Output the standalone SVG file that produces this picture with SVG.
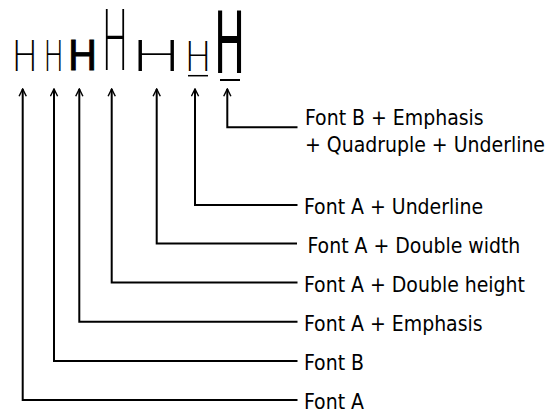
<svg xmlns="http://www.w3.org/2000/svg" width="555" height="412" viewBox="0 0 555 412">
<style>
.lbl{font-family:"DejaVu Sans Condensed","DejaVu Sans",sans-serif;font-size:21px;fill:#000}
.h{font-family:"DejaVu Sans",sans-serif;font-size:100px;font-weight:200;fill:#000}
.hb{font-family:"DejaVu Sans",sans-serif;font-size:100px;font-weight:normal;fill:#000}
.c{fill:none;stroke:#000;stroke-width:2}
.ul{stroke:#000}
</style>
<defs>
<marker id="ah" viewBox="0 0 10 10" refX="9" refY="5" markerWidth="9" markerHeight="9" markerUnits="userSpaceOnUse" orient="auto-start-reverse">
<polyline points="1,1 9,5 1,9" fill="none" stroke="#000" stroke-width="1.6"/>
</marker>
</defs>
<rect width="555" height="412" fill="#fff"/>
<g id="samples">
<text class="h" transform="translate(11.5,70.7) scale(0.354,0.431)">H</text>
<text class="h" transform="translate(43.4,70.7) scale(0.27,0.421)">H</text>
<text class="hb" transform="translate(67.5,70.3) scale(0.40,0.41)" stroke="#000" stroke-width="2">H</text>
<text class="h" transform="translate(101.5,70.2) scale(0.36,0.835)">H</text>
<text class="h" transform="translate(130,70.7) scale(0.7,0.421)">H</text>
<text class="h" transform="translate(184.5,71) scale(0.36,0.40)">H</text>
<line class="ul" x1="188" y1="75.7" x2="208" y2="75.7" stroke-width="1.5"/>
<text class="hb" transform="translate(213.9,72.7) scale(0.414,0.86)">H</text>
<line class="ul" x1="220" y1="80" x2="240" y2="80" stroke-width="2"/>
</g>
<g id="connectors">
<path class="c" marker-start="url(#ah)" d="M227.3,89 V127.3 H297.5"/>
<path class="c" marker-start="url(#ah)" d="M195,89 V205 H297.5"/>
<path class="c" marker-start="url(#ah)" d="M156.7,89 V243.5 H297"/>
<path class="c" marker-start="url(#ah)" d="M111.7,89 V282.5 H297.5"/>
<path class="c" marker-start="url(#ah)" d="M79.3,89 V321.7 H297.5"/>
<path class="c" marker-start="url(#ah)" d="M54,89 V361 H297.5"/>
<path class="c" marker-start="url(#ah)" d="M22.7,89 V400 H297.5"/>
</g>
<g id="labels">
<text class="lbl" x="305" y="125">Font B + Emphasis</text>
<text class="lbl" x="305" y="152">+ Quadruple + Underline</text>
<text class="lbl" x="304" y="214">Font A + Underline</text>
<text class="lbl" x="307.5" y="252.5">Font A + Double width</text>
<text class="lbl" x="304" y="291.5">Font A + Double height</text>
<text class="lbl" x="304" y="331">Font A + Emphasis</text>
<text class="lbl" x="304" y="370">Font B</text>
<text class="lbl" x="304" y="409">Font A</text>
</g>
</svg>
